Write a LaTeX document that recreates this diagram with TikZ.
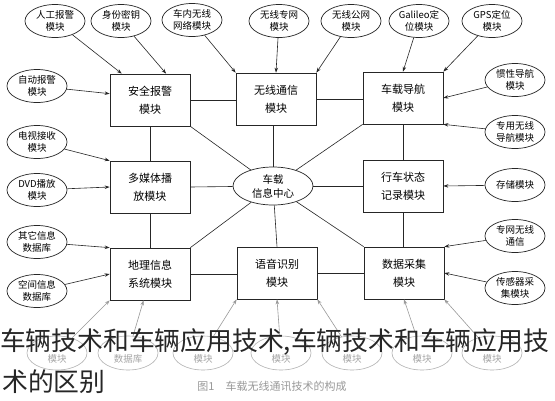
\documentclass[tikz,border=0pt]{standalone}
\usepackage{fontspec}
\newfontfamily\cjk{Noto Sans CJK SC}
\usetikzlibrary{arrows.meta,calc,shapes.geometric}
\begin{document}
\begin{tikzpicture}[x=1pt,y=-1pt,
  box/.style={draw=black!85,line width=0.7pt,fill=white,minimum width=80pt,minimum height=52pt,inner sep=0pt,font=\cjk\fontsize{11}{18}\selectfont,align=center},
  ell/.style={draw=black!85,line width=0.7pt,fill=white,ellipse,minimum width=60pt,minimum height=33pt,inner sep=0pt,font=\cjk\fontsize{9.5}{12}\selectfont,align=center},
  fell/.style={draw=black!30,line width=0.6pt,ellipse,minimum width=60pt,minimum height=34pt,inner sep=0pt,font=\cjk\fontsize{9.5}{12}\selectfont,text=black!35,align=center},
  myarr/.style={draw=black!85,line width=0.6pt,-{Stealth[length=5pt,width=3.5pt]}},
  farr/.style={draw=black!40,line width=0.6pt,-{Stealth[length=5pt,width=3.5pt]}},
  myln/.style={draw=black!85,line width=0.6pt},
  overlay/.style={anchor=base west,inner sep=0pt,font=\cjk\fontsize{25.8}{25.8}\selectfont,text=black!85}]
\useasboundingbox[fill=white] (0,0) rectangle (555,400);

% main boxes
\node[box] (aq) at (150,100) {安全报警\\模块};
\node[box] (wx) at (276,99) {无线通信\\模块};
\node[box] (dh) at (403,98) {车载导航\\模块};
\node[box] (dm) at (150,187) {多媒体播\\放模块};
\node[box] (xc) at (403,186) {行车状态\\记录模块};
\node[box] (dl) at (150,274) {地理信息\\系统模块};
\node[box] (yy) at (277,273) {语音识别\\模块};
\node[box] (sj) at (404,273) {数据采集\\模块};
\node[ell,minimum width=80pt,minimum height=38pt,font=\cjk\fontsize{10.5}{14}\selectfont] (zx) at (273,186) {车载\\信息中心};

% top ellipses
\node[ell] (t1) at (55,21) {人工报警\\模块};
\node[ell] (t2) at (121,21) {身份密钥\\模块};
\node[ell] (t3) at (192,20) {车内无线\\网络模块};
\node[ell] (t4) at (279,21) {无线专网\\模块};
\node[ell] (t5) at (351,21) {无线公网\\模块};
\node[ell] (t6) at (419,21) {Galileo定\\位模块};
\node[ell] (t7) at (492,21) {GPS定位\\模块};

% left ellipses
\node[ell] (l1) at (37,86) {自动报警\\模块};
\node[ell] (l2) at (37,142) {电视接收\\模块};
\node[ell] (l3) at (37,190) {DVD播放\\模块};
\node[ell] (l4) at (37,242) {其它信息\\数据库};
\node[ell] (l5) at (37,291) {空间信息\\数据库};

% right ellipses
\node[ell] (r1) at (515,80) {惯性导航\\模块};
\node[ell] (r2) at (515,132) {专用无线\\导航模块};
\node[ell] (r3) at (515,185) {存储模块};
\node[ell] (r4) at (515,236) {专网无线\\通信};
\node[ell] (r5) at (515,288) {传感器采\\集模块};

% bottom faint ellipses
\node[fell] (b1) at (57,353) {\strut\\模块};
\node[fell] (b2) at (128,353) {\strut\\数据库};
\node[fell] (b3) at (203,353) {\strut\\模块};
\node[fell] (b4) at (281,353) {\strut\\模块};
\node[fell] (b5) at (352,353) {\strut\\模块};
\node[fell] (b6) at (422,353) {\strut\\模块};
\node[fell] (b7) at (492,353) {\strut\\模块};

% box-to-box lines
\draw[myln] (aq.east) -- (aq.east -| wx.west);
\draw[myln] (wx.east) -- (wx.east -| dh.west);
\draw[myln] (aq.south) -- (dm.north);
\draw[myln] (dm.south) -- (dl.north);
\draw[myln] (dh.south) -- (xc.north);
\draw[myln] (xc.south) -- (xc.south |- sj.north);
\draw[myln] (dl.east) -- (dl.east -| yy.west);
\draw[myln] (yy.east) -- (yy.east -| sj.west);

% centre lines
\draw[myln] (zx) -- (aq.south east);
\draw[myln] (zx) -- (zx |- wx.south);
\draw[myln] (zx) -- (dh.south west);
\draw[myln] (zx) -- (dm.east);
\draw[myln] (zx) -- (xc.west);
\draw[myln] (zx) -- (dl.north east);
\draw[myln] (zx) -- (yy.north);
\draw[myln] (zx) -- (sj.north west);

% arrows top
\draw[myarr] (t1) -- ($(aq.north west)!0.15!(aq.north east)$);
\draw[myarr] (t2) -- ($(aq.north west)!0.7!(aq.north east)$);
\draw[myarr] (t3) -- (wx.north west);
\draw[myarr] (t4) -- (wx.north);
\draw[myarr] (t5) -- (wx.north east);
\draw[myarr] (t6) -- (dh.north);
\draw[myarr] (t7) -- (dh.north east);
% arrows left
\draw[myarr] (l1) -- ($(aq.north west)!0.38!(aq.south west)$);
\draw[myarr] (l2) -- (dm.north west);
\draw[myarr] (l3) -- (dm.west);
\draw[myarr] (l4) -- (dl.north west);
\draw[myarr] (l5) -- (dl.west);
% arrows right
\draw[myarr] (r1) -- (dh.east);
\draw[myarr] (r2) -- (dh.south east);
\draw[myarr] (r3) -- (xc.east);
\draw[myarr] (r4) -- (sj.north east);
\draw[myarr] (r5) -- (sj.east);
% arrows bottom
\draw[farr] (b1) -- (dl.south west);
\draw[farr] (b2) -- ($(dl.south west)!0.42!(dl.south east)$);
\draw[farr] (b3) -- (yy.south west);
\draw[farr] (b4) -- (yy.south);
\draw[farr] (b5) -- (yy.south east);
\draw[farr] (b6) -- (sj.south);
\draw[farr] (b7) -- (sj.south east);

% caption
\node[font=\cjk\fontsize{11}{13}\selectfont,text=black!40] (cap) at (272,386) {图1\quad 车载无线通讯技术的构成};

% overlay text
\node[overlay] (ov1) at (0,350) {车辆技术和车辆应用技术,车辆技术和车辆应用技};
\node[overlay] (ov2) at (2,391) {术的区别};
\end{tikzpicture}
\end{document}
